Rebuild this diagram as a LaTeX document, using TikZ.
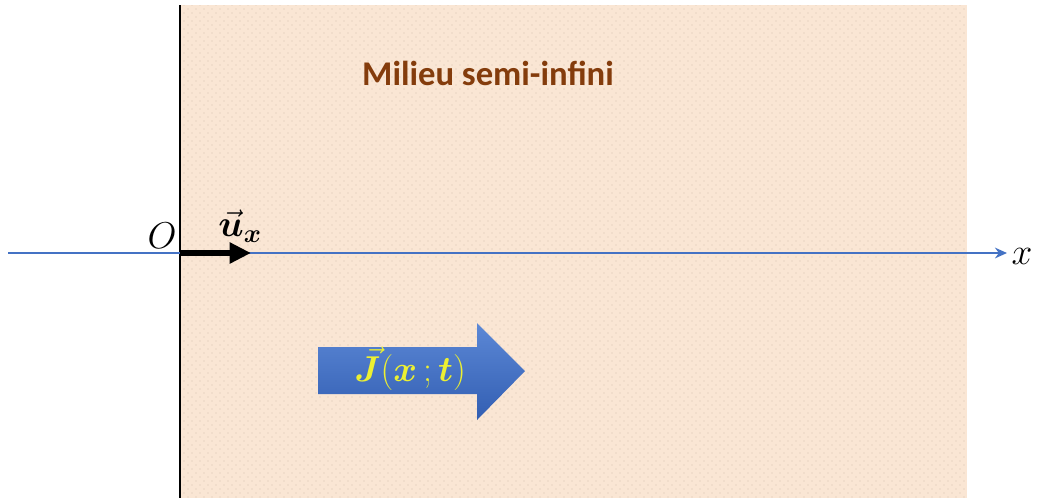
\RequirePackage{fix-cm}
\documentclass[tikz,border=0pt]{standalone}
\usepackage{amsmath,bm}
\usepackage{fontspec}
\newfontfamily\carlito{Carlito}
\usetikzlibrary{arrows.meta,patterns}

\definecolor{peach}{RGB}{250,230,212}
\definecolor{dotbrown}{RGB}{150,128,108}
\definecolor{axisblue}{RGB}{68,114,196}
\definecolor{titlebrown}{RGB}{132,60,12}
\definecolor{fluxlight}{RGB}{92,136,214}
\definecolor{fluxdark}{RGB}{50,94,178}
\definecolor{fluxtext}{RGB}{236,240,50}

% small staggered dots of the medium
\pgfdeclarepatternformonly{peachdots}{\pgfqpoint{-0.6pt}{-0.6pt}}{\pgfqpoint{5.4pt}{5.4pt}}{\pgfqpoint{6pt}{6pt}}{%
  \pgfpathcircle{\pgfqpoint{0pt}{0pt}}{0.35pt}%
  \pgfpathcircle{\pgfqpoint{3pt}{3pt}}{0.35pt}%
  \pgfusepath{fill}}

\begin{document}
\begin{tikzpicture}[x=0.75pt, y=-0.75pt,
  axis/.style={axisblue, line width=1.8pt, -{Stealth[length=9pt, width=8pt]}},
  unitvec/.style={black, line width=4pt, -{Triangle[length=16pt, width=15pt]}},
  wall/.style={black, line width=1.1pt},
  mathlab/.style={inner sep=0pt, font=\fontsize{28}{32}\selectfont},
  title/.style={inner sep=0pt, text=titlebrown, font=\carlito\bfseries\fontsize{26}{30}\selectfont},
  flux/.style={top color=fluxlight, bottom color=fluxdark, draw=none}
]
  \useasboundingbox (0,0) rectangle (1041,501);

  % Semi-infinite medium
  \fill[peach] (180,5) rectangle (967,498);
  \fill[pattern=peachdots, pattern color=dotbrown] (180,5) rectangle (967,498);
  \coordinate (wallTop) at (180,5);
  \coordinate (wallBot) at (180,498);
  \draw[wall] (wallTop) -- (wallBot);

  \node[title] (titre) at (488,73) {Milieu semi-infini};

  % Axis
  \coordinate (axL) at (8,253);
  \coordinate (axR) at (1007,253);
  \coordinate (orig) at (180,253);
  \coordinate (uxEnd) at (251,253);
  \draw[axis] (axL) -- (axR);
  \draw[unitvec] (orig) -- (uxEnd);

  \node[mathlab] (O) at (162,236) {$O$};
  \node[mathlab] (xlab) at (1022,256) {$x$};
  \node[inner sep=0pt, font=\fontsize{28}{32}\selectfont] (ux) at (240,226) {$\vec{\bm{u}}_{\bm{x}}$};

  % Current density arrow
  \shade[flux] (318,347) -- (477,347) -- (477,323) -- (525,371) -- (477,420)
    -- (477,394) -- (318,394) -- cycle;
  \node[inner sep=0pt, text=fluxtext, font=\fontsize{27}{30}\selectfont] (J) at (410,369)
    {$\vec{\bm{J}}(\bm{x}\,;\bm{t})$};
\end{tikzpicture}
\end{document}
